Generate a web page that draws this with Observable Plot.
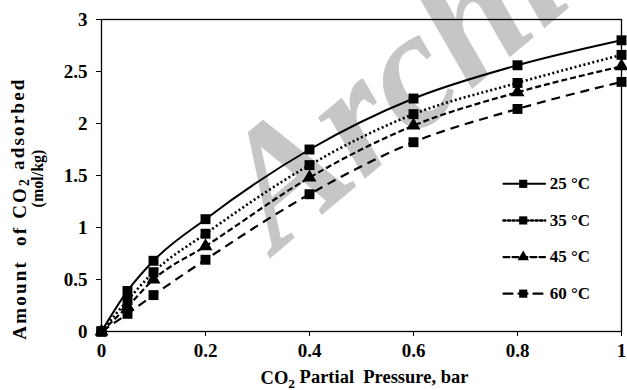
<!DOCTYPE html>
<html><head><meta charset="utf-8">
<script src="https://cdn.jsdelivr.net/npm/d3@7"></script>
<script src="https://cdn.jsdelivr.net/npm/@observablehq/plot@0.6"></script>
<style>
body{margin:0;background:#fff}
#chart svg{overflow:visible}
</style>
</head><body><div id="chart"></div>
<script>
// ---- data ----
const pressure = [0, 0.05, 0.1, 0.2, 0.4, 0.6, 0.8, 1.0];
const series = ["25 °C", "35 °C", "45 °C", "60 °C"];
const ads25 = [0, 0.39, 0.68, 1.08, 1.75, 2.24, 2.56, 2.80];
const ads35 = [0, 0.30, 0.57, 0.94, 1.60, 2.09, 2.39, 2.66];
const ads45 = [0, 0.24, 0.50, 0.82, 1.48, 1.98, 2.30, 2.55];
const ads60 = [0, 0.17, 0.35, 0.69, 1.32, 1.82, 2.14, 2.40];
const xTicks = [0, 0.2, 0.4, 0.6, 0.8, 1];
const yTicks = [0, 0.5, 1, 1.5, 2, 2.5, 3];
const xTitle = "CO2 Partial\u00a0 Pressure, bar";
const yTitle1 = "Amount\u00a0 of CO2 adsorbed";
const yTitle2 = "(mol/kg)";
const watermark = "Archive";

// ---- styles per series ----
const values = [ads25, ads35, ads45, ads60];
const dash = [null, "2,2.6", "6,3", "9,6"];
const widths = [2, 2.6, 2.2, 2.2];
const symbols = ["square", "square", "triangle", "square"];
const radii = [5.6, 5.6, 5.2, 5.6];

const font = "'Liberation Serif', 'Times New Roman', serif";

const marks = [];
// watermark (drawn first, gray)
marks.push(Plot.text([watermark], {
  x: () => 0.27, y: () => 1.15, text: d => d, textAnchor: "start", lineAnchor: "middle", rotate: -40,
  fontSize: 168, fontStyle: "italic", fontWeight: "bold", fill: "#c6c6c6",
  fontFamily: "'Liberation Serif', serif"
}));

values.forEach((vals, i) => {
  const data = pressure.map((p, j) => ({p, v: vals[j]}));
  marks.push(Plot.line(data, {x: "p", y: "v", curve: "monotone-x", stroke: "black",
    strokeWidth: widths[i], strokeDasharray: dash[i], strokeLinecap: "butt"}));
  marks.push(Plot.dot(data, {x: "p", y: "v", symbol: symbols[i], r: radii[i], fill: "black", stroke: "none"}));
});

// legend (layout in data units)
const legX0 = 0.773, legX1 = 0.853, legXm = 0.811, legXt = 0.862;
const legY = i => 1.42 - i * 0.352;
series.forEach((s, i) => {
  const seg = [{p: legX0, v: legY(i)}, {p: legX1, v: legY(i)}];
  marks.push(Plot.line(seg, {x: "p", y: "v", stroke: "black", strokeWidth: widths[i], strokeDasharray: dash[i]}));
  marks.push(Plot.dot([{p: legXm, v: legY(i)}], {x: "p", y: "v", symbol: symbols[i], r: i === 2 ? 4.2 : 4.6, fill: "black", stroke: "none"}));
  marks.push(Plot.text([s], {x: () => legXt, y: () => legY(i), text: d => d, textAnchor: "start", fontSize: 17, fontWeight: "bold"}));
});

// axes & frame
marks.push(Plot.axisX({ticks: xTicks, tickFormat: d => String(d), tickSize: 5, tickPadding: 7, fontSize: 19, fontWeight: "bold", label: null}));
marks.push(Plot.axisY({ticks: yTicks, tickFormat: d => String(d), tickSize: 5, tickPadding: 9, fontSize: 19, fontWeight: "bold", label: null}));
marks.push(Plot.frame({stroke: "black", strokeWidth: 1.3}));

// axis titles
marks.push(Plot.text([xTitle], {frameAnchor: "bottom", textAnchor: "middle", lineAnchor: "middle", text: d => d, dx: 3, dy: 47, fontSize: 18.5, fontWeight: "bold"}));
marks.push(Plot.text([yTitle1], {frameAnchor: "left", textAnchor: "middle", lineAnchor: "middle", text: d => d, rotate: -90, dx: -82, dy: 33, fontSize: 19, fontWeight: "bold"}));
marks.push(Plot.text([yTitle2], {frameAnchor: "left", textAnchor: "middle", lineAnchor: "middle", text: d => d, rotate: -90, dx: -64, dy: 3, fontSize: 16, fontWeight: "bold"}));

const chart = Plot.plot({
  width: 627, height: 390,
  marginLeft: 101, marginRight: 6, marginTop: 19, marginBottom: 59,
  x: {domain: [0, 1]},
  y: {domain: [0, 3]},
  style: {fontFamily: font, color: "black", background: "white", overflow: "visible"},
  marks
});

// subscript the 2 in CO2, letter spacing for the y title
d3.select(chart).selectAll("text").each(function() {
  const t = d3.select(this);
  const s = this.textContent;
  if (this.childElementCount === 0 && s.includes("CO2")) {
    if (s.startsWith("Amount")) t.attr("letter-spacing", "2.2");
    const [a, b] = s.split("CO2");
    t.text(null);
    t.append("tspan").text(a + "CO");
    t.append("tspan").attr("dy", "0.28em").attr("font-size", "0.72em").text("2");
    t.append("tspan").attr("dy", "-0.28em").text(b);
  }
});

document.getElementById("chart").appendChild(chart);
</script>
</body></html>
